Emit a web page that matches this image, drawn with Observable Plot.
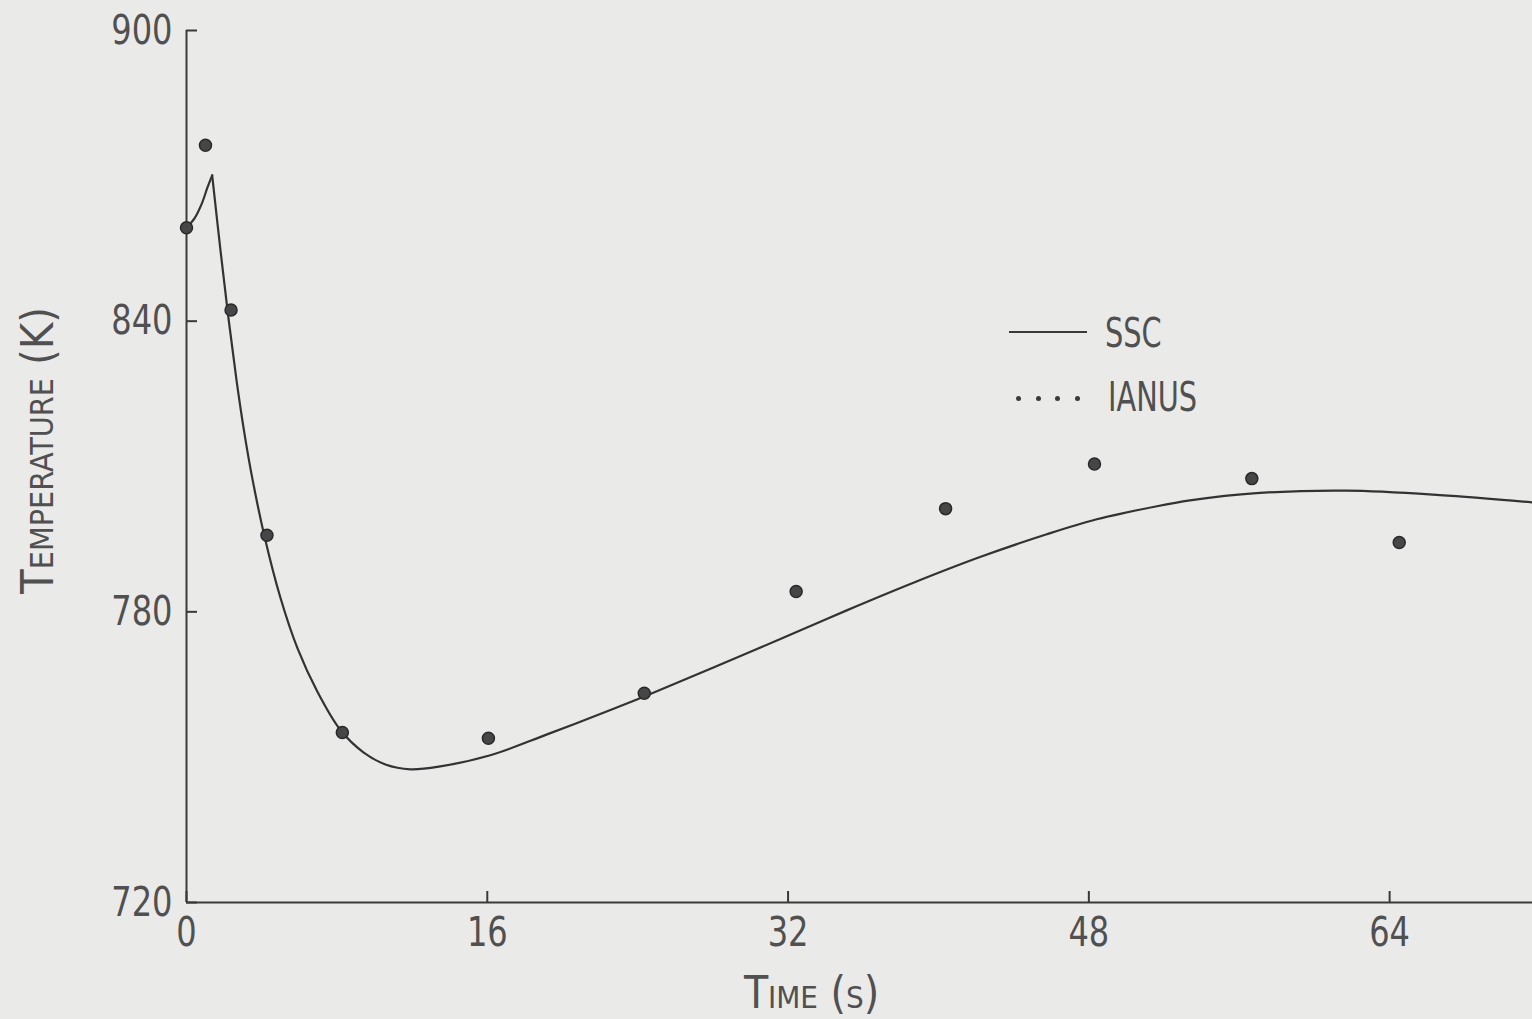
<!DOCTYPE html>
<html>
<head>
<meta charset="utf-8">
<script src="https://cdn.jsdelivr.net/npm/d3@7"></script>
<script src="https://cdn.jsdelivr.net/npm/@observablehq/plot@0.6"></script>
<style>
  html, body { margin: 0; padding: 0; background: #eaeae9; }
  #wrap { position: relative; width: 1532px; height: 1019px; overflow: hidden; }
  .lg { position: absolute; font-family: "DejaVu Sans Condensed", "Liberation Sans Narrow", sans-serif; font-size: 41px; color: #505050; line-height: 1; transform: scaleX(0.78); transform-origin: 0 50%; white-space: nowrap; }
  .lgline { position: absolute; height: 0; border-top: 2px solid #3a3a3a; }
  .lgdot { position: absolute; width: 5px; height: 5px; border-radius: 50%; background: #3a3a3a; }
</style>
</head>
<body>
<div id="wrap"></div>
<script>
// Tick values
const xTicks = [0, 16, 32, 48, 64];
const yTicks = [720, 780, 840, 900];

// SSC (solid line), rising part up to the spike: time (s), temperature (K)
const sscRiseTime = [0, 0.425, 0.797, 1.116, 1.366];
const sscRiseTemp = [859.3, 861.2, 864.1, 867.6, 870.1];

// SSC (solid line), from the spike onward
const sscFallTime = [1.366, 1.808, 2.233, 2.658, 3.084, 3.509, 4.147, 4.997, 5.901, 6.964, 8.187, 9.41, 10.58, 11.91, 13.5, 16.16, 19.18, 22.72, 25.02, 28.03, 31.59, 35.12, 38.67, 42.21, 45.76, 48.42, 51.5, 53.38, 56.92, 61.71, 66.67, 71.6];
const sscFallTemp = [870.1, 854.6, 840.6, 827.9, 816.8, 807.4, 795.6, 782.9, 772.5, 763.5, 755.6, 751.0, 748.5, 747.5, 748.1, 750.4, 754.7, 760.0, 763.6, 768.5, 774.4, 780.3, 786.0, 791.3, 796.0, 799.1, 801.7, 803.0, 804.5, 805.0, 804.1, 802.6];

// IANUS (dots)
const ianusTime = [0, 1.01, 2.37, 4.28, 8.29, 16.06, 24.35, 32.43, 40.38, 48.3, 56.67, 64.51];
const ianusTemp = [859.3, 876.3, 842.3, 795.8, 755.1, 753.9, 763.2, 784.2, 801.3, 810.5, 807.5, 794.3];

// Legend labels & axis titles
const legendLabels = ["SSC", "IANUS"];
const yTitle = "Temperature (K)";
const xTitle = "Time (s)";

const ssc = [
  ...sscRiseTime.map((t, i) => ({t, T: sscRiseTemp[i], part: "rise"})),
  ...sscFallTime.map((t, i) => ({t, T: sscFallTemp[i], part: "fall"}))
];
const ianus = ianusTime.map((t, i) => ({t, T: ianusTemp[i]}));

const W = 1532, H = 1019;
const mL = 186, mR = 0, mT = 30, mB = 117;
const frameW = W - mL - mR, frameH = H - mT - mB;
const font = '"DejaVu Sans Condensed", "Liberation Sans Narrow", sans-serif';
const ink = "#3a3a3a";
const textInk = "#505050";

const chart = Plot.plot({
  width: W,
  height: H,
  marginLeft: mL,
  marginRight: mR,
  marginTop: mT,
  marginBottom: mB,
  style: { background: "transparent", color: textInk, fontFamily: font, fontSize: "41px" },
  x: { domain: [0, 71.6] },
  y: { domain: [720, 900] },
  marks: [
    Plot.axisX({ ticks: xTicks, tickSize: 0, tickPadding: 14, label: null, fontSize: 41, fill: textInk }),
    Plot.axisY({ ticks: yTicks, tickSize: 0, tickPadding: 14, label: null, fontSize: 41, fill: textInk }),
    Plot.tickX(xTicks, { x: d => d, insetTop: frameH - 11, stroke: ink, strokeWidth: 2 }),
    Plot.tickY(yTicks, { y: d => d, insetRight: frameW - 11, stroke: ink, strokeWidth: 2 }),
    Plot.ruleX([0], { stroke: ink, strokeWidth: 2 }),
    Plot.ruleY([720], { stroke: ink, strokeWidth: 2 }),
    Plot.line(ssc, { x: "t", y: "T", z: "part", curve: "catmull-rom", stroke: "#333", strokeWidth: 2.2, strokeLinejoin: "miter" }),
    Plot.dot(ianus, { x: "t", y: "T", r: 6, fill: "#464646", stroke: "#2a2a2a", strokeWidth: 1.5 }),
    Plot.text([yTitle], { text: d => d, frameAnchor: "left", textAnchor: "middle", lineAnchor: "middle", dx: -148, dy: -16, rotate: -90, fontVariant: "small-caps", fontSize: 45, fill: textInk }),
    Plot.text([xTitle], { text: d => d, frameAnchor: "bottom", textAnchor: "middle", lineAnchor: "middle", dx: -48, dy: 91, fontVariant: "small-caps", fontSize: 44, fill: textInk })
  ]
});

// Narrow the tick-label glyphs to match the condensed typewriter lettering
d3.select(chart).selectAll('g[aria-label="x-axis tick label"] text, g[aria-label="y-axis tick label"] text')
  .attr("transform", function () { return (this.getAttribute("transform") || "") + " scale(0.87,1)"; });

const wrap = document.getElementById("wrap");
wrap.appendChild(chart);

// Legend overlay
const lg1 = document.createElement("div");
lg1.className = "lgline";
lg1.style.left = "1009px"; lg1.style.top = "331px"; lg1.style.width = "78px";
wrap.appendChild(lg1);
const t1 = document.createElement("div");
t1.className = "lg"; t1.textContent = legendLabels[0];
t1.style.left = "1105px"; t1.style.top = "313px";
wrap.appendChild(t1);
[1016, 1036, 1055, 1075].forEach(x => {
  const d = document.createElement("div");
  d.className = "lgdot"; d.style.left = x + "px"; d.style.top = "396px";
  wrap.appendChild(d);
});
const t2 = document.createElement("div");
t2.className = "lg"; t2.textContent = legendLabels[1];
t2.style.left = "1108px"; t2.style.top = "377px";
wrap.appendChild(t2);
</script>
</body>
</html>
